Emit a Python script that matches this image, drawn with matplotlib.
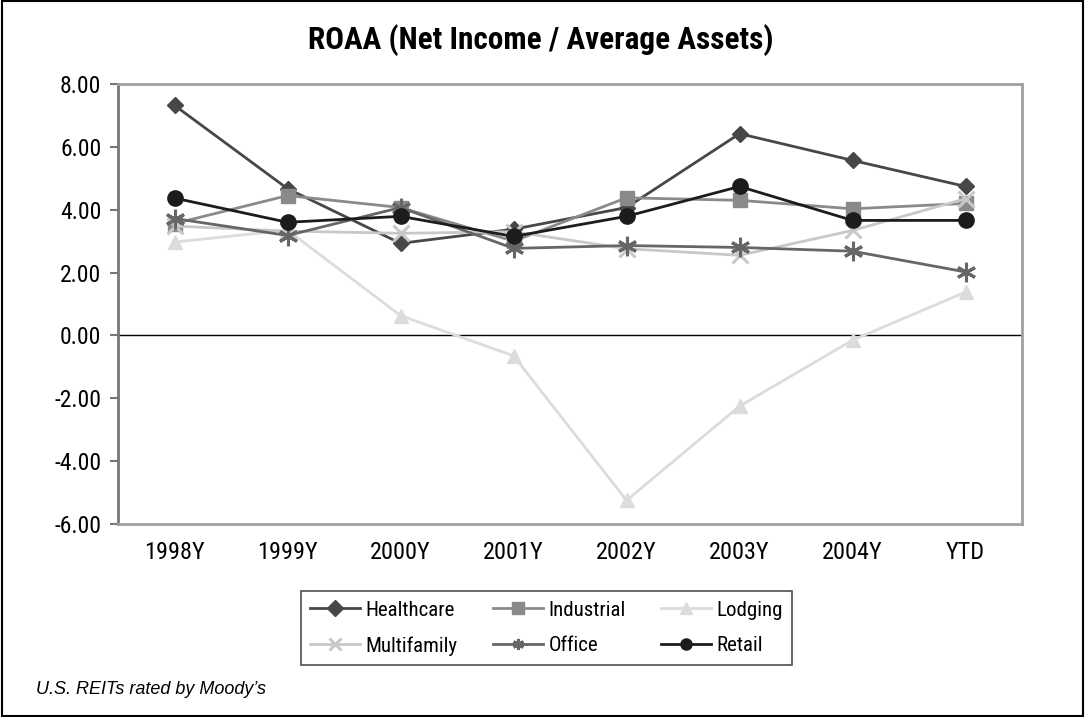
import matplotlib
matplotlib.use("Agg")
import matplotlib.pyplot as plt
from matplotlib.patches import Rectangle

categories = ["1998Y", "1999Y", "2000Y", "2001Y", "2002Y", "2003Y", "2004Y", "YTD"]
healthcare = [7.32, 4.67, 2.93, 3.38, 4.07, 6.42, 5.57, 4.74]
industrial = [3.56, 4.45, 4.07, 3.00, 4.38, 4.30, 4.03, 4.20]
lodging = [2.97, 3.35, 0.63, -0.65, -5.25, -2.25, -0.15, 1.38]
multifamily = [3.48, 3.32, 3.25, 3.30, 2.76, 2.55, 3.34, 4.35]
office = [3.72, 3.18, 4.07, 2.77, 2.86, 2.80, 2.68, 2.02]
retail = [4.37, 3.60, 3.79, 3.15, 3.79, 4.74, 3.66, 3.66]
yticks = [-6, -4, -2, 0, 2, 4, 6, 8]

narrow = ["Roboto Condensed", "Roboto", "DejaVu Sans"]

fig = plt.figure(figsize=(10.85, 7.17), dpi=100)
ax = fig.add_axes([0.1088, 0.2692, 0.8332, 0.6136])

x = list(range(len(categories)))
series = [
    ("Healthcare", healthcare, "#474747", "D", 8, 1),
    ("Industrial", industrial, "#8a8a8a", "s", 10, 1),
    ("Lodging", lodging, "#dcdcdc", "^", 10, 1),
    ("Multifamily", multifamily, "#c8c8c8", "x", 11, 2.2),
    ("Office", office, "#666666", (6, 2, 0), 14, 2.2),
    ("Retail", retail, "#1c1c1c", "o", 11, 1),
]
handles = {}
for name, vals, col, mk, ms, mew in series:
    h, = ax.plot(x, vals, color=col, lw=2, marker=mk, ms=ms, mfc=col, mec=col,
                 mew=mew, label=name, zorder=3)
    handles[name] = h

ax.axhline(0, color="black", lw=1, zorder=2)
ax.set_xlim(-0.5, len(categories) - 0.5)
ax.set_ylim(-6, 8)
ax.set_yticks(yticks)
ax.set_yticklabels([f"{v:.2f}" for v in yticks], family=narrow, fontsize=17)
ax.set_xticks(x)
ax.set_xticklabels(categories, family=narrow, fontsize=17.5)
ax.tick_params(axis="x", length=0, pad=12)
ax.tick_params(axis="y", length=6, width=1.5, color="#777777", pad=6)
for s in ["top", "right", "bottom"]:
    ax.spines[s].set_color("#a0a0a0")
    ax.spines[s].set_linewidth(2)
ax.spines["left"].set_color("#777777")
ax.spines["left"].set_linewidth(2)

fig.text(0.498, 0.944, "ROAA (Net Income / Average Assets)", ha="center", va="center",
         family=narrow, fontsize=22.5, fontweight="bold")

order = ["Healthcare", "Multifamily", "Industrial", "Office", "Lodging", "Retail"]
leg = fig.legend([handles[n] for n in order], order, loc="center",
                 bbox_to_anchor=(0.5037, 0.124), ncol=3,
                 prop={"family": narrow, "size": 15}, frameon=True, fancybox=False,
                 edgecolor="#222222", handlelength=2.4, columnspacing=1.7,
                 handletextpad=0.25, borderpad=0.45, labelspacing=0.8)
leg.get_frame().set_linewidth(1.2)
for h in leg.legend_handles:
    h.set_markersize(8)

fig.text(0.033, 0.0377, "U.S. REITs rated by Moody\u2019s", ha="left", va="center",
         fontsize=13, style="italic", family=["Liberation Sans", "DejaVu Sans"])

fig.patches.append(Rectangle((0.002, 0.002), 0.996, 0.996, transform=fig.transFigure,
                             fill=False, edgecolor="black", lw=1.5))

fig.savefig("out.png", dpi=100)
